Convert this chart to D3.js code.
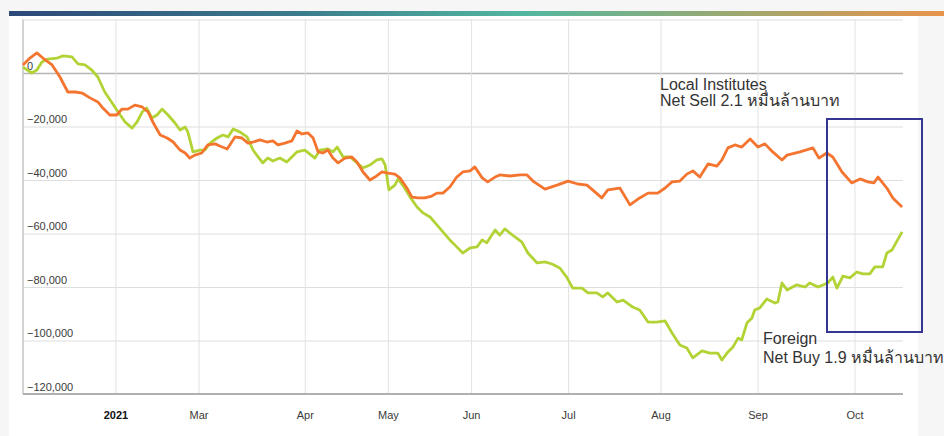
<!DOCTYPE html>
<meta charset="utf-8">
<script src="https://d3js.org/d3.v7.min.js"></script>
<style>
  body { margin: 0; background: #f6f6f6; }
  svg { display: block; font-family: "Liberation Sans", Arial, "Noto Sans", sans-serif; }
</style>
<svg id="chart" width="944" height="436"></svg>
<script>
// month ticks, in trading days since the start of the year
var tickDays = [20, 38, 61, 79, 97, 118, 138, 159, 180];
var tickLabels = ["2021", "Mar", "Apr", "May", "Jun", "Jul", "Aug", "Sep", "Oct"];
var yTicks = [20000, 0, -20000, -40000, -60000, -80000, -100000, -120000];

// Local institutes, cumulative net (million baht)
var localDays = [0, 1.5, 3.0, 4.3, 6.3, 8.0, 9.7, 11.3, 12.8, 14.5, 16.2, 17.3, 18.8, 20.3, 21.4, 22.7,
  24.2, 25.8, 27.1, 28.1, 29.7, 31.2, 32.5, 34.0, 35.1, 36.1, 37.2, 38.7, 40.0, 41.6, 42.6, 44.2,
  45.9, 47.4, 48.7, 49.8, 51.3, 52.8, 54.1, 55.2, 56.7, 58.2, 59.3, 60.4, 61.7, 62.8, 63.9, 64.9,
  66.0, 67.1, 68.2, 69.7, 71.2, 72.3, 73.6, 75.1, 76.2, 77.7, 79.0, 80.5, 81.6, 83.1, 84.2, 85.5,
  87.0, 88.5, 89.6, 90.9, 92.4, 93.9, 95.2, 96.8, 97.8, 99.4, 100.6, 102.2, 103.2, 105.4, 107.6, 109.1,
  110.4, 113.0, 115.6, 118.0, 120.1, 122.1, 125.3, 126.6, 129.2, 131.4, 133.5, 135.3, 137.4, 139.0, 140.5, 142.2,
  143.7, 145.0, 146.5, 148.3, 150.2, 151.3, 152.6, 154.1, 155.6, 157.4, 159.1, 160.6, 162.3, 164.3, 165.4, 168.2,
  171.0, 172.3, 174.0, 175.3, 177.3, 179.4, 181.2, 182.9, 184.2, 185.1, 187.0, 188.3, 190.3];
var localValues = [3000, 5600, 7500, 5600, 3000, -1500, -7100, -7100, -7500, -9300, -10800, -13100, -15700, -15700, -13500, -13500,
  -12000, -12700, -14600, -18300, -23200, -24300, -25800, -28800, -29900, -31800, -30700, -29900, -26900, -26500, -27300, -28400,
  -23900, -24300, -26200, -25800, -25000, -25800, -25400, -26900, -26200, -25400, -21700, -22800, -22400, -24300, -29500, -29900,
  -28800, -31800, -33600, -31800, -31400, -33300, -37000, -40000, -38900, -37000, -37400, -37800, -39200, -43000, -46400, -46700,
  -46700, -46000, -44900, -44900, -42600, -38900, -37000, -36600, -35100, -39200, -40700, -38900, -38100, -38500, -38100, -38100,
  -40400, -43400, -41900, -40400, -41500, -41900, -46700, -43700, -43000, -49300, -46700, -44900, -44900, -43000, -40700, -40400,
  -37800, -36600, -38900, -34000, -34800, -32500, -28000, -26900, -27700, -24700, -27700, -26500, -29500, -32500, -30700, -29500,
  -28000, -31800, -29900, -31400, -37000, -41100, -39600, -40700, -41100, -38900, -43000, -46700, -50100];

// Foreign investors, cumulative net (million baht)
var foreignDays = [0, 1.9, 3.0, 4.1, 5.4, 7.4, 8.7, 10.6, 11.9, 13.4, 14.9, 16.2, 17.7, 19.3, 20.6, 22.1,
  23.6, 24.7, 25.8, 26.8, 27.9, 29.0, 30.1, 31.4, 32.9, 34.0, 35.1, 35.7, 36.8, 38.3, 39.4, 40.5,
  42.0, 43.3, 44.4, 45.5, 47.0, 48.5, 49.8, 50.6, 51.9, 53.0, 54.1, 55.6, 57.1, 58.2, 59.3, 61.0,
  63.2, 64.3, 66.0, 67.1, 68.0, 69.3, 70.8, 72.3, 73.6, 75.1, 76.6, 77.7, 78.4, 79.2, 80.5, 81.2,
  82.3, 83.8, 85.3, 86.6, 88.1, 89.6, 90.9, 92.4, 93.9, 95.2, 96.8, 98.3, 99.4, 100.4, 102.2, 103.2,
  104.3, 106.5, 108.0, 109.3, 111.3, 113.0, 114.5, 116.2, 117.7, 119.0, 121.0, 122.3, 124.2, 125.5, 126.6, 128.6,
  129.9, 132.0, 133.5, 135.3, 137.2, 139.0, 140.5, 142.2, 143.7, 145.0, 147.0, 148.7, 150.4, 151.3, 152.4, 153.7,
  154.8, 155.6, 156.7, 157.8, 158.4, 159.5, 161.0, 162.8, 163.4, 164.3, 165.4, 167.5, 169.3, 170.3, 172.1, 174.2,
  175.3, 176.2, 177.5, 179.0, 180.5, 181.8, 183.3, 184.4, 186.1, 187.0, 188.1, 190.3];
var foreignValues = [2200, 0, 1100, 4100, 5200, 5600, 6400, 6000, 3400, 3000, 1100, -1500, -7100, -11200, -14600, -18300,
  -20600, -18300, -14600, -13100, -16800, -15700, -13500, -15700, -18700, -21300, -20200, -22100, -29500, -28800, -28800, -26200,
  -24300, -23200, -23900, -20900, -22100, -23900, -28800, -30700, -33600, -31800, -32900, -31800, -33300, -31400, -29500, -28800,
  -31800, -28800, -28400, -29500, -27700, -31400, -31400, -33600, -35500, -34400, -32500, -32100, -34400, -43700, -41900, -39600,
  -42200, -46400, -50100, -52300, -53800, -56800, -59400, -62400, -65000, -67300, -65400, -65000, -62400, -63500, -58700, -60600,
  -58300, -61300, -63200, -67300, -71000, -70600, -71400, -72900, -76300, -80400, -80400, -82200, -82200, -83700, -82200, -85600,
  -84900, -87500, -88600, -93100, -93100, -92700, -97200, -101700, -102800, -106500, -103900, -104700, -104700, -107300, -104700, -102400,
  -99100, -99800, -93500, -91600, -88600, -87800, -84500, -86000, -85600, -78500, -81100, -79200, -80000, -78500, -80000, -78500,
  -76300, -80400, -75900, -76600, -74400, -75100, -75100, -72500, -72500, -67300, -66200, -59400];

var svg = d3.select("#chart");

// top colour band
var grad = svg.append("defs").append("linearGradient").attr("id", "band");
grad.append("stop").attr("offset", "0%").attr("stop-color", "#2d4879");
grad.append("stop").attr("offset", "30%").attr("stop-color", "#3b7a8c");
grad.append("stop").attr("offset", "55%").attr("stop-color", "#52b7a0");
grad.append("stop").attr("offset", "78%").attr("stop-color", "#9ea86f");
grad.append("stop").attr("offset", "100%").attr("stop-color", "#e8934b");
svg.append("rect").attr("x", 9).attr("y", 11).attr("width", 935).attr("height", 5).attr("fill", "url(#band)");

// white card
svg.append("rect").attr("x", 9).attr("y", 16).attr("width", 909).attr("height", 420).attr("fill", "#fff");

var x = d3.scaleLinear().domain([0, 190.5]).range([23, 903]);
var y = d3.scaleLinear().domain([-120000, 20000]).range([394, 19.5]);

// horizontal grid + y labels
var yAxis = svg.append("g")
  .attr("transform", "translate(23,0)")
  .call(d3.axisRight(y).tickValues(yTicks).tickSize(880)
    .tickFormat(function(d) { return d === 20000 ? "" : d3.format(",")(d); }));
yAxis.select(".domain").remove();
yAxis.selectAll(".tick line").attr("stroke", "#dedede");
yAxis.selectAll(".tick text")
  .attr("x", 4).attr("dy", -4).attr("text-anchor", "start")
  .attr("fill", "#3a3a3a").style("font-size", "11px");
yAxis.selectAll(".tick").filter(function(d) { return d === 0; }).select("line")
  .attr("stroke", "#b5b5b5").attr("stroke-width", 1.5);

// vertical grid + month labels
var xAxis = svg.append("g")
  .attr("transform", "translate(0,394)")
  .call(d3.axisBottom(x).tickValues(tickDays).tickSize(-374.5).tickPadding(17)
    .tickFormat(function(d, i) { return tickLabels[i]; }));
xAxis.select(".domain").remove();
xAxis.selectAll(".tick line").attr("stroke", "#e2e2e2");
xAxis.selectAll(".tick text").style("font-size", "11px")
  .style("font-weight", function(d, i) { return i === 0 ? "bold" : "normal"; })
  .attr("fill", function(d, i) { return i === 0 ? "#111" : "#3a3a3a"; });

// frame: left and bottom axis lines
svg.append("line").attr("x1", 23).attr("x2", 23).attr("y1", y(20000)).attr("y2", y(-120000))
  .attr("stroke", "#c4c4c4").attr("stroke-width", 1.5);
svg.append("line").attr("x1", 23).attr("x2", 903).attr("y1", y(-120000)).attr("y2", y(-120000))
  .attr("stroke", "#b0b0b0").attr("stroke-width", 2);

var line = d3.line()
  .x(function(d) { return x(d[0]); })
  .y(function(d) { return y(d[1]); });

svg.append("path")
  .datum(d3.zip(foreignDays, foreignValues))
  .attr("d", line).attr("fill", "none")
  .attr("stroke", "#b2d335").attr("stroke-width", 2.8).attr("stroke-linejoin", "round");

svg.append("path")
  .datum(d3.zip(localDays, localValues))
  .attr("d", line).attr("fill", "none")
  .attr("stroke", "#f47530").attr("stroke-width", 2.8).attr("stroke-linejoin", "round");

// highlight box over the last weeks
svg.append("rect")
  .attr("x", 827).attr("y", 119).attr("width", 95).attr("height", 213)
  .attr("fill", "none").attr("stroke", "#353594").attr("stroke-width", 2);

// annotations
var note1 = svg.append("text").attr("x", 660).attr("y", 90)
  .attr("fill", "#333").style("font-size", "16px");
note1.append("tspan").attr("x", 660).text("Local Institutes");
note1.append("tspan").attr("x", 660).attr("dy", 16).text("Net Sell 2.1 หมื่นล้านบาท");

var note2 = svg.append("text").attr("x", 763).attr("y", 344)
  .attr("fill", "#333").style("font-size", "16px");
note2.append("tspan").attr("x", 763).text("Foreign");
note2.append("tspan").attr("x", 763).attr("dy", 19).text("Net Buy 1.9 หมื่นล้านบาท");
</script>
